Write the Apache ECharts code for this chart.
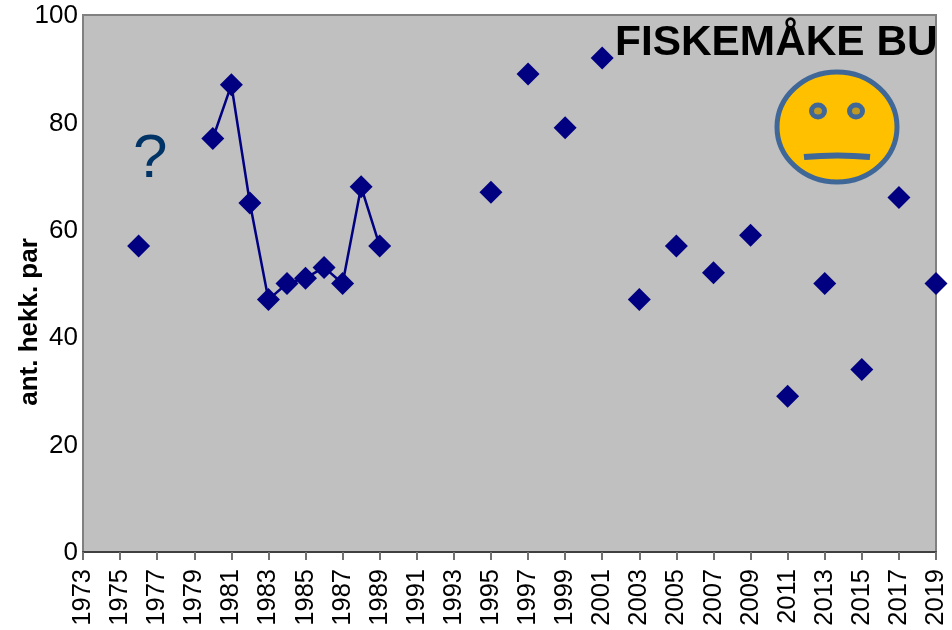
<!DOCTYPE html>
<html>
<head>
<meta charset="utf-8">
<title>Fiskemåke bu</title>
<style>
  html, body { margin: 0; padding: 0; background: #fff; }
  #chart { width: 952px; height: 630px; }
</style>
<script src="https://cdn.jsdelivr.net/npm/echarts@6/dist/echarts.min.js"></script>
</head>
<body>
<div id="chart"></div>
<script>
const years = [];
for (let y = 1973; y <= 2019; y++) years.push(String(y));

// ant. hekk. par, lest av bildet
const obsYears = [1976, 1980, 1981, 1982, 1983, 1984, 1985, 1986, 1987, 1988, 1989,
  1995, 1997, 1999, 2001, 2003, 2005, 2007, 2009, 2011, 2013, 2015, 2017, 2019];
const obsValues = [57, 77, 87, 65, 47, 50, 51, 53, 50, 68, 57,
  67, 89, 79, 92, 47, 57, 52, 59, 29, 50, 34, 66, 50];

const yTicks = { min: 0, max: 100, interval: 20 };
const titleText = 'FISKEMÅKE BU';
const yName = 'ant. hekk. par';

const seriesData = years.map(y => {
  const i = obsYears.indexOf(Number(y));
  return i < 0 ? null : obsValues[i];
});

const font = '"Liberation Sans", Arial, sans-serif';
const chart = echarts.init(document.getElementById('chart'), null, { renderer: 'canvas' });

chart.setOption({
  animation: false,
  grid: {
    left: 83, right: 16, top: 15, bottom: 78,
    outerBoundsMode: 'none',
    show: true, backgroundColor: '#c0c0c0', borderColor: '#808080', borderWidth: 2
  },
  xAxis: {
    type: 'category',
    data: years,
    boundaryGap: false,
    axisLine: { show: true, onZero: false, lineStyle: { color: '#404040', width: 2 } },
    axisTick: { show: true, interval: 1, length: 8, lineStyle: { color: '#707070', width: 2 } },
    axisLabel: {
      interval: 1, rotate: 90, margin: 17, color: '#000',
      fontFamily: font, fontSize: 25.5, showMinLabel: true, showMaxLabel: true
    },
    splitLine: { show: false }
  },
  yAxis: {
    type: 'value',
    min: yTicks.min, max: yTicks.max, interval: yTicks.interval,
    name: yName,
    nameLocation: 'middle',
    nameGap: 40,
    nameMoveOverlap: false,
    nameTextStyle: { fontFamily: font, fontSize: 26, fontWeight: 'bold', color: '#000', padding: [0, 77, 0, 0] },
    axisLine: { show: true, lineStyle: { color: '#808080', width: 2 } },
    axisTick: { show: false },
    axisLabel: {
      margin: 5, color: '#000',
      formatter: '{v|{value}}',
      rich: { v: { fontFamily: font, fontSize: 26, color: '#000', padding: [2, 0, 0, 0] } }
    },
    splitLine: { show: false }
  },
  series: [{
    type: 'line',
    data: seriesData,
    connectNulls: false,
    clip: false,
    symbol: 'diamond',
    symbolSize: 23,
    showAllSymbol: true,
    itemStyle: { color: '#000080' },
    lineStyle: { color: '#000080', width: 2.5 }
  }],
  graphic: [
    { type: 'text', left: 615, top: 22,
      style: { text: titleText, fontFamily: font, fontSize: 42.4, fontWeight: 'bold', fill: '#000' } },
    { type: 'text', left: 133, top: 129,
      style: { text: '?', fontFamily: font, fontSize: 62, fill: '#003366' } },
    // smilefjes
    { type: 'ellipse', shape: { cx: 837, cy: 127, rx: 60, ry: 55 },
      style: { fill: '#ffc000', stroke: '#3f6797', lineWidth: 5 } },
    { type: 'ellipse', shape: { cx: 818, cy: 111, rx: 6.5, ry: 6 },
      style: { fill: '#c09a20', stroke: '#3f6797', lineWidth: 5 } },
    { type: 'ellipse', shape: { cx: 856, cy: 111, rx: 6.5, ry: 6 },
      style: { fill: '#c09a20', stroke: '#3f6797', lineWidth: 5 } },
    { type: 'bezierCurve', shape: { x1: 804, y1: 157, cpx1: 825, cpy1: 155, cpx2: 850, cpy2: 155, x2: 870, y2: 157 },
      style: { fill: 'none', stroke: '#3f6797', lineWidth: 6 } }
  ]
});
</script>
</body>
</html>
